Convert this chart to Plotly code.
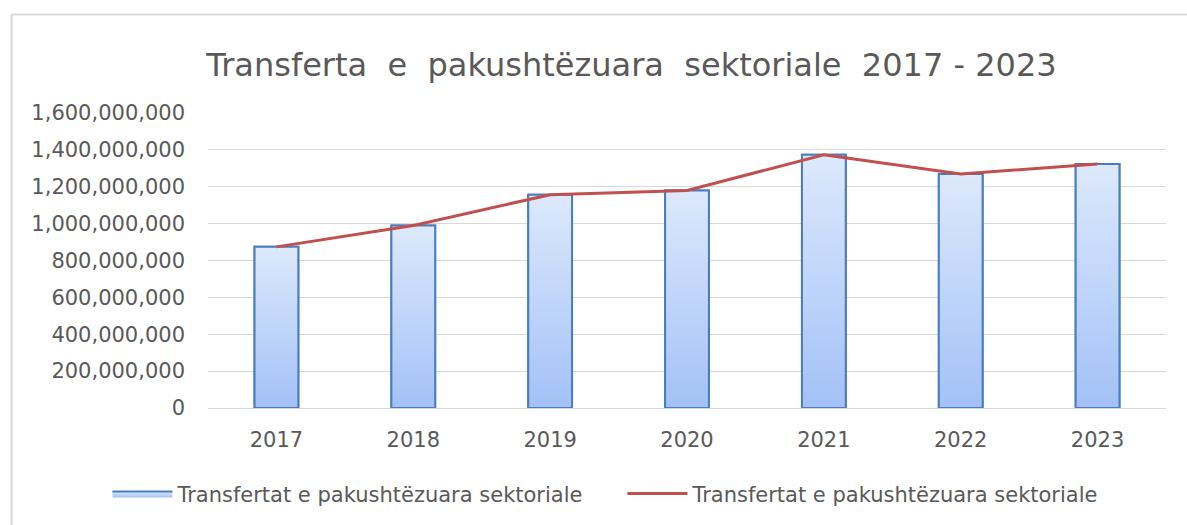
import plotly.graph_objects as go

years = ["2017", "2018", "2019", "2020", "2021", "2022", "2023"]
bar_values = [874e6, 990e6, 1157e6, 1180e6, 1373e6, 1269e6, 1324e6]
line_values = [874e6, 990e6, 1157e6, 1180e6, 1373e6, 1269e6, 1324e6]
series_name = "Transfertat e pakushtëzuara sektoriale"
title_text = "Transferta  e  pakushtëzuara  sektoriale  2017 - 2023"
tick_vals = [0, 200e6, 400e6, 600e6, 800e6, 1000e6, 1200e6, 1400e6, 1600e6]
tick_text = ["0", "200,000,000", "400,000,000", "600,000,000", "800,000,000",
             "1,000,000,000", "1,200,000,000", "1,400,000,000", "1,600,000,000"]

FONT = "DejaVu Sans"
GRAY = "#595959"
BAR_W = 0.32
xs = list(range(len(years)))

fig = go.Figure()
fig.add_trace(go.Bar(
    x=xs, y=bar_values, width=BAR_W, name=series_name,
    marker=dict(color="#bcd3f8", line=dict(color="#4a7ebb", width=2)),
    showlegend=False, legendgroup="bars",
))
# gradient overlay for each bar (light top, darker bottom)
for k, (i, v) in enumerate(zip(xs, bar_values)):
    fig.add_trace(go.Scatter(
        x=[i - BAR_W / 2, i - BAR_W / 2, i + BAR_W / 2, i + BAR_W / 2, i - BAR_W / 2],
        y=[0, v, v, 0, 0],
        mode="lines", fill="toself", name=series_name, legendgroup="bars",
        line=dict(color="#4a7ebb", width=2),
        fillgradient=dict(type="vertical", start=0, stop=v,
                          colorscale=[[0, "#a3c1f7"], [1, "#dde9fc"]]),
        showlegend=(k == 0), hoverinfo="skip",
    ))
fig.add_trace(go.Scatter(
    x=xs, y=line_values, mode="lines", name=series_name,
    line=dict(color="#c0504d", width=3),
))

fig.update_layout(
    width=1187, height=525,
    margin=dict(l=208, r=21, t=113, b=116),
    paper_bgcolor="white", plot_bgcolor="white",
    title=dict(text=title_text, x=0.532, xanchor="center", y=0.876, yanchor="middle",
               font=dict(family=FONT, size=32, color=GRAY)),
    font=dict(family=FONT, color=GRAY),
    xaxis=dict(range=[-0.5, 6.5], tickvals=xs, ticktext=years, showgrid=False,
               zeroline=False, showline=False, ticks="", ticklabelstandoff=17,
               tickfont=dict(family=FONT, size=21, color=GRAY)),
    yaxis=dict(range=[0, 1600e6], tickvals=tick_vals, ticktext=tick_text,
               showgrid=True, gridcolor="#d9d9d9", gridwidth=1,
               zeroline=True, zerolinecolor="#d9d9d9", zerolinewidth=1,
               ticks="", ticklen=0, ticklabelstandoff=22,
               tickfont=dict(family=FONT, size=21, color=GRAY)),
    legend=dict(orientation="h", x=-0.105, xanchor="left", y=-0.287, yanchor="middle",
                font=dict(family=FONT, size=21, color=GRAY), itemwidth=60,
                entrywidth=440, traceorder="normal"),
    shapes=[
        dict(type="line", xref="paper", yref="paper", x0=-0.2051, x1=1.05, y0=1.334, y1=1.334,
             line=dict(color="#d9d9d9", width=2)),
        dict(type="line", xref="paper", yref="paper", x0=-0.2051, x1=-0.2051, y0=1.334, y1=-0.5,
             line=dict(color="#d9d9d9", width=2)),
    ],
)
fig.update_yaxes(automargin=False)
fig.update_xaxes(automargin=False)

fig.write_html("out.html", config={"displayModeBar": False},
               post_script="document.body.style.margin='0';document.body.style.padding='0';")
